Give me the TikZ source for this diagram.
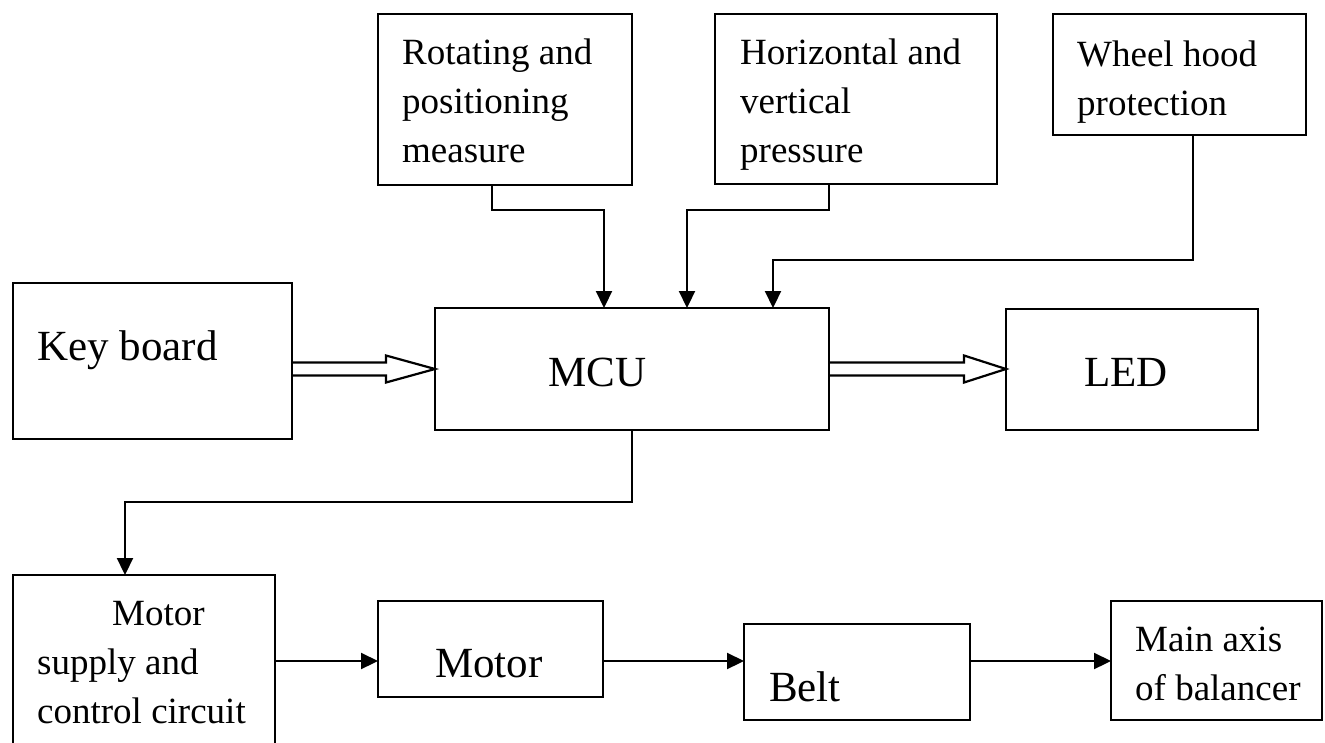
\documentclass[tikz,border=0pt]{standalone}
\usepackage{fontspec}
\setmainfont{Liberation Serif}
\usetikzlibrary{arrows.meta,calc}
\begin{document}
\begin{tikzpicture}[x=1pt,y=-1pt,
  box/.style={draw, line width=2.2pt, inner sep=0pt, outer sep=0pt, anchor=north west},
  small/.style={anchor=base west, align=left, inner sep=0pt, font=\fontsize{37}{49}\selectfont},
  large/.style={anchor=base west, align=left, inner sep=0pt, font=\fontsize{43}{52}\selectfont},
  conn/.style={line width=2.2pt, -{Triangle[length=17pt,width=16pt]}},
  hollow/.style={line width=2.2pt, line join=miter}
]
\useasboundingbox (0,0) rectangle (1325,742);
% boxes
\node[box, minimum width=254pt, minimum height=171pt] (rot) at (378,14) {};
\node[box, minimum width=282pt, minimum height=170pt] (hor) at (715,14) {};
\node[box, minimum width=253pt, minimum height=121pt] (whl) at (1053,14) {};
\node[box, minimum width=279pt, minimum height=156pt] (kb) at (13,283) {};
\node[box, minimum width=394pt, minimum height=122pt] (mcu) at (435,308) {};
\node[box, minimum width=252pt, minimum height=121pt] (led) at (1006,309) {};
\node[box, minimum width=262pt, minimum height=185pt] (msc) at (13,575) {};
\node[box, minimum width=225pt, minimum height=96pt] (mot) at (378,601) {};
\node[box, minimum width=226pt, minimum height=96pt] (blt) at (744,624) {};
\node[box, minimum width=211pt, minimum height=119pt] (mai) at (1111,601) {};
% texts (base anchor = baseline of last line)
\node[small] (rotT) at (402,162) {Rotating and\\positioning\\measure};
\node[small] (horT) at (740,162) {Horizontal and\\vertical\\pressure};
\node[small] (whlT) at (1077,115) {Wheel hood\\protection};
\node[large] (kbT) at (37,360) {Key board};
\node[large] (mcuT) at (548,386) {MCU};
\node[large] (ledT) at (1084,386) {LED};
\node[small] (mscT) at (37,723) {\hspace*{75pt}Motor\\supply and\\control circuit};
\node[large] (motT) at (435,677) {Motor};
\node[large] (bltT) at (769,701) {Belt};
\node[small] (maiT) at (1135,700) {Main axis\\of balancer};
% connectors to MCU
\draw[conn] ($(rot.south west)+(114,0)$) -- ++(0,25) -| ($(mcu.north west)+(169,0)$);
\draw[conn] ($(hor.south west)+(114,0)$) -- ++(0,26) -| ($(mcu.north west)+(252,0)$);
\draw[conn] ($(whl.south west)+(140,0)$) -- ++(0,125) -| ($(mcu.north west)+(338,0)$);
% MCU to motor supply
\draw[conn] (mcu.south) -- ++(0,72) -| ($(msc.north west)+(112,0)$);
% hollow arrows
\draw[hollow] ($(kb.east |- mcu.west)+(0,-6.5)$) -- ($(mcu.west)+(-49,-6.5)$) -- ($(mcu.west)+(-49,-13.5)$) -- (mcu.west) -- ($(mcu.west)+(-49,13.5)$) -- ($(mcu.west)+(-49,6.5)$) -- ($(kb.east |- mcu.west)+(0,6.5)$);
\draw[hollow] ($(mcu.east)+(0,-6.5)$) -- ($(led.west |- mcu.east)+(-42,-6.5)$) -- ($(led.west |- mcu.east)+(-42,-13.5)$) -- (led.west |- mcu.east) -- ($(led.west |- mcu.east)+(-42,13.5)$) -- ($(led.west |- mcu.east)+(-42,6.5)$) -- ($(mcu.east)+(0,6.5)$);
% bottom chain
\coordinate (a1) at ($(msc.north east)+(0,86)$);
\draw[conn] (a1) -- (a1 -| mot.west);
\draw[conn] (mot.east |- a1) -- (a1 -| blt.west);
\draw[conn] (blt.east |- a1) -- (a1 -| mai.west);
\end{tikzpicture}
\end{document}
